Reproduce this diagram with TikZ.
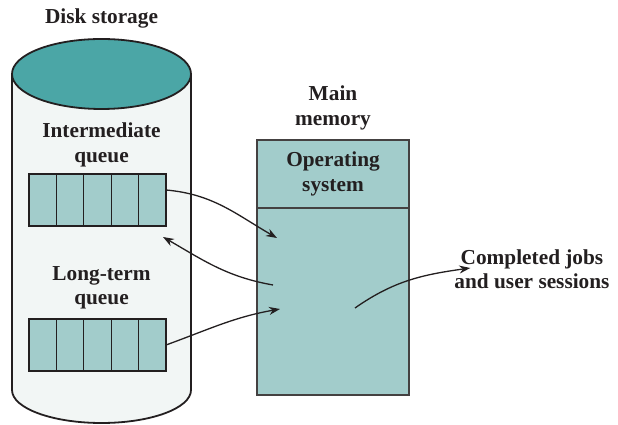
\documentclass[tikz,border=0pt]{standalone}
\usepackage{fontspec}
\setmainfont{Liberation Serif}
\usetikzlibrary{arrows.meta, positioning}
\definecolor{ink}{HTML}{231F20}
\definecolor{diskteal}{HTML}{4BA6A6}
\definecolor{softteal}{HTML}{A2CCCB}
\definecolor{diskbody}{HTML}{F2F6F5}
\tikzset{
  txt/.style={font=\bfseries\fontsize{21.3}{24.5}\selectfont, text=ink, align=center, inner sep=0pt},
  cell/.style={rectangle, draw=ink, fill=softteal, line width=1.3pt, outer sep=0pt,
    minimum width=27.4pt, minimum height=52pt, inner sep=0pt},
  membox/.style={rectangle, draw=ink!85, fill=softteal, line width=1.3pt, outer sep=0pt,
    minimum width=152pt, inner sep=0pt, txt},
  arrow/.style={-{Stealth[length=11pt,width=8pt]}, line width=1.3pt, draw=ink},
}
\begin{document}
\begin{tikzpicture}[x=1pt, y=1pt]
  \useasboundingbox (0,0) rectangle (618,425);

  % disk storage
  \draw[ink, line width=1.8pt, fill=diskbody] (12,351) -- (12,35)
    arc[start angle=180, end angle=360, x radius=89.5pt, y radius=33pt] -- (191,351);
  \draw[ink, line width=1.8pt, fill=diskteal] (101.5,351) ellipse[x radius=89.5pt, y radius=35pt];
  \node[txt] (disklbl) at (101.5,407) {Disk storage};

  \node[txt] (midlbl) at (101.5,280) {Intermediate\\queue};
  \node[cell] (qi1) at (42.7,225) {};
  \foreach \i [count=\j from 2] in {1,...,4}
    \node[cell, right=0pt of qi\i] (qi\j) {};

  \node[txt] (ltlbl) at (101.5,137) {Long-term\\queue};
  \node[cell] (ql1) at (42.7,80) {};
  \foreach \i [count=\j from 2] in {1,...,4}
    \node[cell, right=0pt of ql\i] (ql\j) {};

  % main memory
  \node[membox, minimum height=68pt] (os) at (333,251) {Operating\\system};
  \node[membox, minimum height=187pt, below=0pt of os] (user) {};
  \node[txt] (memlbl) at (333,317) {Main\\memory};

  \node[txt] (done) at (532,156) {Completed jobs\\and user sessions};

  \coordinate (inA) at (277,187);
  \coordinate (outA) at (273,140);
  \coordinate (inB) at (280,116);
  \coordinate (outB) at (355,117);

  \draw[arrow] ([yshift=10pt]qi5.east) to[out=-5, in=150] (inA);
  \draw[arrow] (outA) to[out=170, in=-30] ([xshift=-3pt, yshift=-11pt]qi5.south east);
  \draw[arrow] (ql5.east) to[out=20, in=190] (inB);
  \draw[arrow] (outB) to[out=35, in=188] ([xshift=16pt, yshift=1pt]done.west);
\end{tikzpicture}
\end{document}
